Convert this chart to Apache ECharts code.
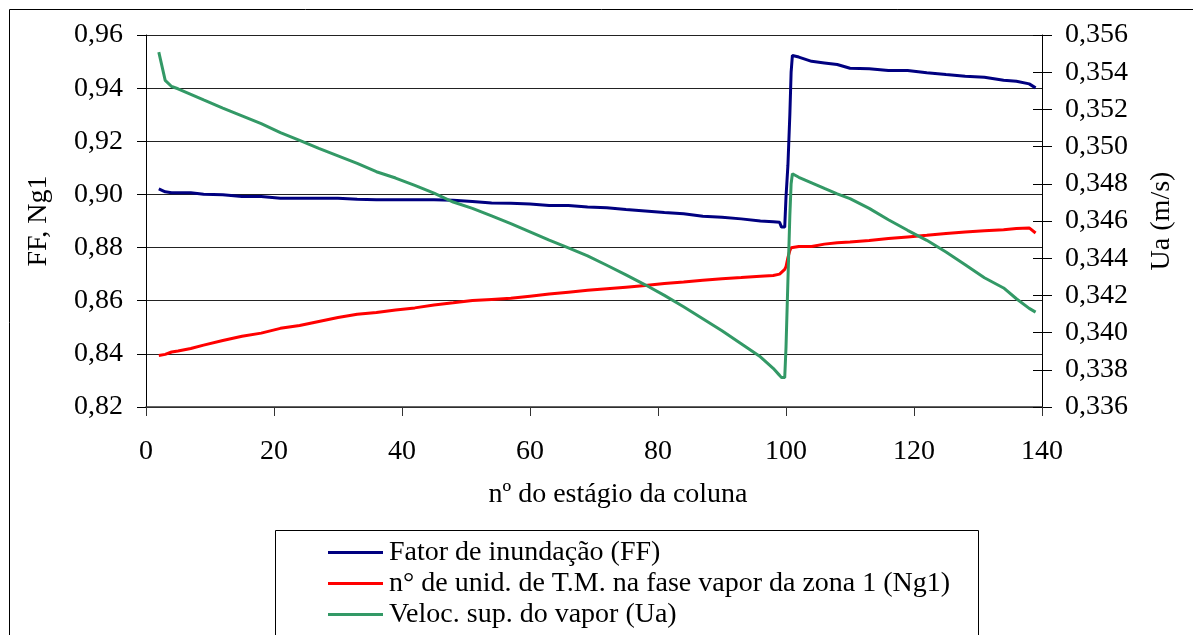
<!DOCTYPE html>
<html>
<head>
<meta charset="utf-8">
<title>Fator de inundação, Ng1 e Ua ao longo da coluna</title>
<script src="https://cdn.jsdelivr.net/npm/echarts@6/dist/echarts.min.js"></script>
<style>
  html, body { margin: 0; padding: 0; background: #fff; }
  #chart { width: 1193px; height: 635px; }
</style>
</head>
<body>
<div id="chart"></div>
<script>
// Stage number along the column (fine steps around the feed stage)
const stages = [2, 3, 4, 5, 7, 9, 12, 15, 18, 21, 24, 27, 30, 33, 36, 39, 42, 45, 48, 51, 54, 57, 60,
  63, 66, 69, 72, 75, 78, 81, 84, 87, 90, 93, 96, 98, 99, 99.3, 99.8, 100, 100.3, 100.6, 100.8, 101,
  102, 104, 106, 108, 110, 113, 116, 119, 122, 125, 128, 131, 134, 136, 138, 139];

// Flooding factor (FF)
const ffValues = [0.9021, 0.9010, 0.9006, 0.9006, 0.9006, 0.9001, 0.8999, 0.8992, 0.8992, 0.8986,
  0.8986, 0.8986, 0.8986, 0.8982, 0.8980, 0.8980, 0.8980, 0.8980, 0.8978, 0.8973, 0.8968, 0.8967,
  0.8964, 0.8958, 0.8958, 0.8953, 0.8950, 0.8943, 0.8938, 0.8932, 0.8927, 0.8918, 0.8914, 0.8908,
  0.8900, 0.8897, 0.8895, 0.8877, 0.8877, 0.8990, 0.9110, 0.9300, 0.9460, 0.9523, 0.9517, 0.9501,
  0.9495, 0.9489, 0.9475, 0.9473, 0.9466, 0.9466, 0.9458, 0.9451, 0.9445, 0.9441, 0.9430, 0.9426,
  0.9416, 0.9401];

// Number of vapour-phase transfer units, zone 1 (Ng1)
const ng1Values = [0.8394, 0.8398, 0.8407, 0.8411, 0.8420, 0.8433, 0.8450, 0.8466, 0.8478, 0.8496,
  0.8507, 0.8522, 0.8537, 0.8549, 0.8556, 0.8565, 0.8573, 0.8584, 0.8592, 0.8601, 0.8605, 0.8609,
  0.8617, 0.8625, 0.8632, 0.8639, 0.8645, 0.8651, 0.8657, 0.8665, 0.8670, 0.8677, 0.8683, 0.8687,
  0.8692, 0.8695, 0.8700, 0.8704, 0.8718, 0.8728, 0.8762, 0.8789, 0.8799, 0.8803, 0.8804, 0.8804,
  0.8813, 0.8818, 0.8821, 0.8827, 0.8834, 0.8840, 0.8846, 0.8853, 0.8859, 0.8863, 0.8867, 0.8872,
  0.8874, 0.8855];

// Superficial vapour velocity Ua (m/s)
const uaValues = [0.35508, 0.35356, 0.35323, 0.35311, 0.35281, 0.35251, 0.35207, 0.35165, 0.35123,
  0.35075, 0.35033, 0.34990, 0.34950, 0.34910, 0.34865, 0.34831, 0.34791, 0.34750, 0.34702, 0.34668,
  0.34627, 0.34586, 0.34542, 0.34497, 0.34456, 0.34412, 0.34362, 0.34310, 0.34257, 0.34200, 0.34139,
  0.34075, 0.34010, 0.33940, 0.33870, 0.33808, 0.33770, 0.33758, 0.33758, 0.33920, 0.34280, 0.34630,
  0.34800, 0.34854, 0.34835, 0.34805, 0.34775, 0.34746, 0.34720, 0.34668, 0.34607, 0.34550, 0.34496,
  0.34433, 0.34365, 0.34295, 0.34240, 0.34182, 0.34130, 0.34110];

const seriesNames = [
  'Fator de inundação (FF)',
  'n° de unid. de T.M. na fase vapor da zona 1 (Ng1)',
  'Veloc. sup. do vapor (Ua)'
];

const FONT = '"Liberation Serif", "Times New Roman", serif';
const pairs = vals => stages.map((s, i) => [s, vals[i]]);
const comma = digits => v => v.toFixed(digits).replace('.', ',');

const chart = echarts.init(document.getElementById('chart'), null, { renderer: 'canvas' });

chart.setOption({
  animation: false,
  backgroundColor: '#fff',
  textStyle: { fontFamily: FONT, color: '#000' },
  grid: { left: 146, top: 35, width: 896, height: 372, containLabel: false },
  graphic: [
    { type: 'rect', z: -10, shape: { x: 9.5, y: 9.5, width: 1400, height: 1000 },
      style: { fill: '#fff', stroke: '#000', lineWidth: 1 } },
    { type: 'rect', z: -5, shape: { x: 275.5, y: 530.5, width: 703, height: 300 },
      style: { fill: '#fff', stroke: '#000', lineWidth: 1 } }
  ],
  legend: {
    orient: 'vertical',
    left: 328,
    top: 537,
    padding: 0,
    itemWidth: 55,
    itemHeight: 3,
    itemGap: 0,
    icon: 'rect',
    data: seriesNames,
    textStyle: { fontFamily: FONT, fontSize: 28, color: '#000', lineHeight: 31, padding: [0, 0, 0, 1] }
  },
  xAxis: {
    type: 'value',
    min: 0,
    max: 140,
    interval: 20,
    name: 'nº do estágio da coluna',
    nameLocation: 'middle',
    nameGap: 74,
    nameTextStyle: { fontFamily: FONT, fontSize: 28, color: '#000', padding: [0, 0, 0, 48] },
    axisLine: { show: true, onZero: false, lineStyle: { color: '#333', width: 1.5 } },
    axisTick: { show: true, length: 9, lineStyle: { color: '#333' } },
    axisLabel: { fontFamily: FONT, fontSize: 28, color: '#000', margin: 31 },
    splitLine: { show: false }
  },
  yAxis: [
    {
      type: 'value',
      position: 'left',
      min: 0.82,
      max: 0.96,
      interval: 0.02,
      name: 'FF, Ng1',
      nameLocation: 'middle',
      nameRotate: 90,
      nameGap: 93,
      nameTextStyle: { fontFamily: FONT, fontSize: 28, color: '#000' },
      axisLine: { show: true, lineStyle: { color: '#000', width: 1 } },
      axisTick: { show: true, length: 9, lineStyle: { color: '#000' } },
      axisLabel: { fontFamily: FONT, fontSize: 28, color: '#000', margin: 23, formatter: comma(2) },
      splitLine: { show: true, lineStyle: { color: '#222', width: 1 } }
    },
    {
      type: 'value',
      position: 'right',
      min: 0.336,
      max: 0.356,
      interval: 0.002,
      name: 'Ua (m/s)',
      nameLocation: 'middle',
      nameRotate: 90,
      nameGap: 106,
      nameTextStyle: { fontFamily: FONT, fontSize: 28, color: '#000' },
      axisLine: { show: true, lineStyle: { color: '#000', width: 1 } },
      axisTick: { show: true, length: 10, lineStyle: { color: '#000' } },
      axisLabel: { fontFamily: FONT, fontSize: 28, color: '#000', margin: 23, formatter: comma(3) },
      splitLine: { show: false }
    },
    {
      // inner half of the crossing ticks on the right-hand axis
      type: 'value',
      position: 'right',
      min: 0.336,
      max: 0.356,
      interval: 0.002,
      axisLine: { show: false },
      axisTick: { show: true, inside: true, length: 9, lineStyle: { color: '#000' } },
      axisLabel: { show: false },
      splitLine: { show: false }
    }
  ],
  series: [
    {
      name: seriesNames[0],
      type: 'line',
      yAxisIndex: 0,
      data: pairs(ffValues),
      showSymbol: false,
      color: '#000080',
      lineStyle: { width: 3, color: '#000080' },
      z: 3
    },
    {
      name: seriesNames[1],
      type: 'line',
      yAxisIndex: 0,
      data: pairs(ng1Values),
      showSymbol: false,
      color: '#ff0000',
      lineStyle: { width: 3, color: '#ff0000' },
      z: 3
    },
    {
      name: seriesNames[2],
      type: 'line',
      yAxisIndex: 1,
      data: pairs(uaValues),
      showSymbol: false,
      color: '#339966',
      lineStyle: { width: 3, color: '#339966' },
      z: 3
    }
  ]
});
</script>
</body>
</html>
